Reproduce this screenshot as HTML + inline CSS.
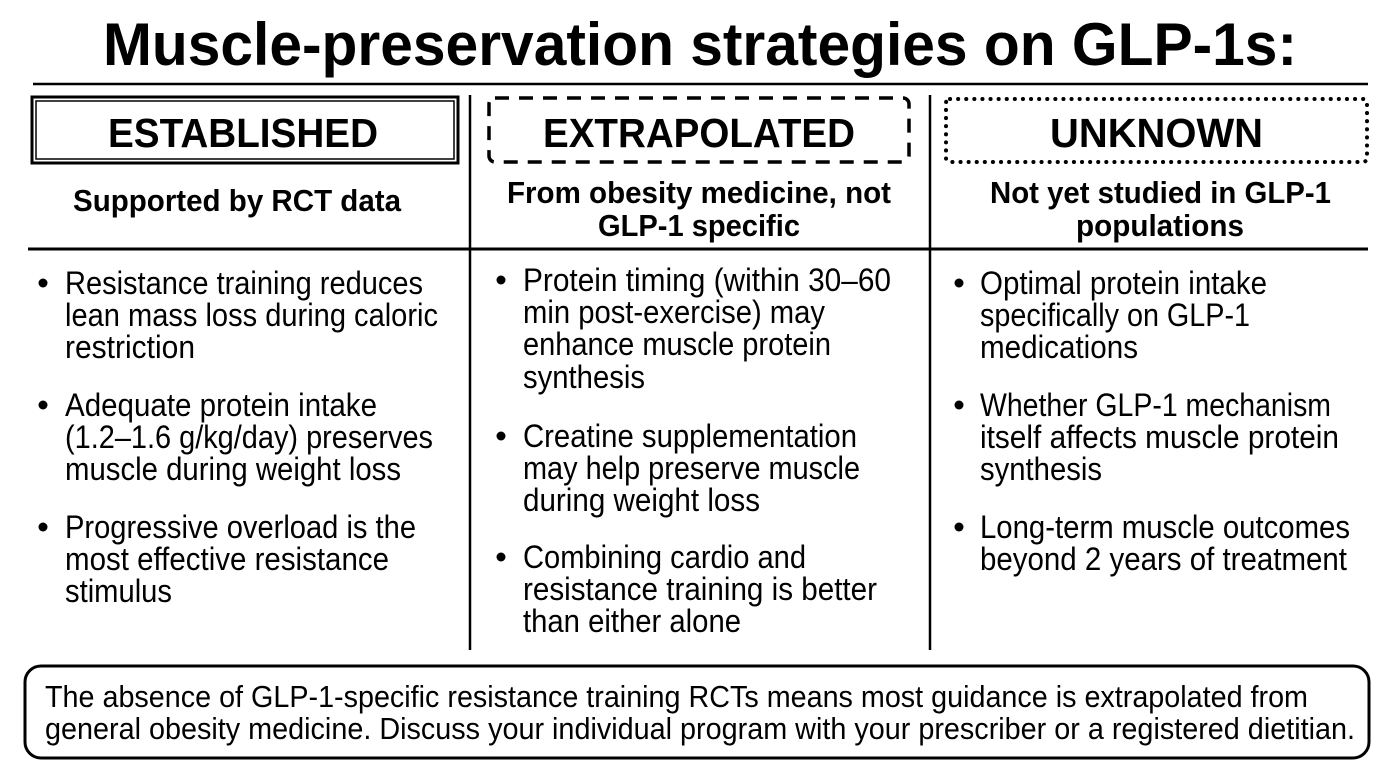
<!DOCTYPE html>
<html><head><meta charset="utf-8"><style>
html,body{margin:0;padding:0;background:#fff}
svg{display:block}
text{font-family:"Liberation Sans",sans-serif;fill:#000}
.b{font-weight:bold}
</style></head><body>
<svg width="1400" height="781" viewBox="0 0 1400 781" xmlns="http://www.w3.org/2000/svg">
<rect width="1400" height="781" fill="#fff"/>
<text class="b" x="103" y="65" font-size="60" textLength="1194" lengthAdjust="spacingAndGlyphs">Muscle-preservation strategies on GLP-1s:</text>
<line x1="33" y1="84" x2="1368" y2="84" stroke="#000" stroke-width="2.5"/>
<line x1="470" y1="95" x2="470" y2="650" stroke="#000" stroke-width="2.5"/>
<line x1="930" y1="95" x2="930" y2="650" stroke="#000" stroke-width="2.5"/>
<line x1="28" y1="249" x2="1368" y2="249" stroke="#000" stroke-width="3"/>
<rect x="32" y="97" width="426" height="66" fill="none" stroke="#000" stroke-width="3"/>
<rect x="36" y="101" width="418" height="58" fill="none" stroke="#000" stroke-width="1.5"/>
<rect x="489" y="98" width="420" height="64" rx="6" fill="none" stroke="#000" stroke-width="3.5" stroke-dasharray="14 10"/>
<rect x="946" y="99" width="421" height="63" rx="4" fill="none" stroke="#000" stroke-width="4" stroke-dasharray="0.1 8" stroke-linecap="round"/>
<text class="b" x="108" y="147" font-size="41" textLength="270" lengthAdjust="spacingAndGlyphs">ESTABLISHED</text>
<text class="b" x="543" y="147" font-size="41" textLength="312" lengthAdjust="spacingAndGlyphs">EXTRAPOLATED</text>
<text class="b" x="1050" y="147" font-size="41" textLength="213" lengthAdjust="spacingAndGlyphs">UNKNOWN</text>
<text class="b" x="73" y="211" font-size="31" textLength="328" lengthAdjust="spacingAndGlyphs">Supported by RCT data</text>
<text class="b" x="507" y="203" font-size="31" textLength="384" lengthAdjust="spacingAndGlyphs">From obesity medicine, not</text>
<text class="b" x="598" y="236" font-size="31" textLength="202" lengthAdjust="spacingAndGlyphs">GLP-1 specific</text>
<text class="b" x="990" y="203" font-size="31" textLength="341" lengthAdjust="spacingAndGlyphs">Not yet studied in GLP-1</text>
<text class="b" x="1076" y="236" font-size="31" textLength="168" lengthAdjust="spacingAndGlyphs">populations</text>
<g font-size="32">
<circle cx="43" cy="283" r="4.5"/><circle cx="43" cy="405" r="4.5"/><circle cx="43" cy="527" r="4.5"/>
<text x="65" y="294" textLength="358" lengthAdjust="spacingAndGlyphs">Resistance training reduces</text>
<text x="65" y="326" textLength="373" lengthAdjust="spacingAndGlyphs">lean mass loss during caloric</text>
<text x="65" y="358" textLength="130" lengthAdjust="spacingAndGlyphs">restriction</text>
<text x="65" y="416" textLength="312" lengthAdjust="spacingAndGlyphs">Adequate protein intake</text>
<text x="65" y="448" textLength="368" lengthAdjust="spacingAndGlyphs">(1.2–1.6 g/kg/day) preserves</text>
<text x="65" y="480" textLength="336" lengthAdjust="spacingAndGlyphs">muscle during weight loss</text>
<text x="65" y="538" textLength="351" lengthAdjust="spacingAndGlyphs">Progressive overload is the</text>
<text x="65" y="570" textLength="324" lengthAdjust="spacingAndGlyphs">most effective resistance</text>
<text x="65" y="602" textLength="107" lengthAdjust="spacingAndGlyphs">stimulus</text>

<circle cx="501" cy="280" r="4.5"/><circle cx="501" cy="436" r="4.5"/><circle cx="501" cy="557" r="4.5"/>
<text x="523" y="291" textLength="368" lengthAdjust="spacingAndGlyphs">Protein timing (within 30–60</text>
<text x="523" y="323" textLength="302" lengthAdjust="spacingAndGlyphs">min post-exercise) may</text>
<text x="523" y="355" textLength="308" lengthAdjust="spacingAndGlyphs">enhance muscle protein</text>
<text x="523" y="388" textLength="122" lengthAdjust="spacingAndGlyphs">synthesis</text>
<text x="523" y="447" textLength="334" lengthAdjust="spacingAndGlyphs">Creatine supplementation</text>
<text x="523" y="479" textLength="337" lengthAdjust="spacingAndGlyphs">may help preserve muscle</text>
<text x="523" y="511" textLength="237" lengthAdjust="spacingAndGlyphs">during weight loss</text>
<text x="523" y="568" textLength="283" lengthAdjust="spacingAndGlyphs">Combining cardio and</text>
<text x="523" y="600" textLength="354" lengthAdjust="spacingAndGlyphs">resistance training is better</text>
<text x="523" y="632" textLength="218" lengthAdjust="spacingAndGlyphs">than either alone</text>

<circle cx="959" cy="283" r="4.5"/><circle cx="959" cy="405" r="4.5"/><circle cx="959" cy="527" r="4.5"/>
<text x="980" y="294" textLength="287" lengthAdjust="spacingAndGlyphs">Optimal protein intake</text>
<text x="980" y="326" textLength="270" lengthAdjust="spacingAndGlyphs">specifically on GLP-1</text>
<text x="980" y="358" textLength="158" lengthAdjust="spacingAndGlyphs">medications</text>
<text x="980" y="416" textLength="351" lengthAdjust="spacingAndGlyphs">Whether GLP-1 mechanism</text>
<text x="980" y="448" textLength="359" lengthAdjust="spacingAndGlyphs">itself affects muscle protein</text>
<text x="980" y="480" textLength="122" lengthAdjust="spacingAndGlyphs">synthesis</text>
<text x="980" y="538" textLength="370" lengthAdjust="spacingAndGlyphs">Long-term muscle outcomes</text>
<text x="980" y="570" textLength="367" lengthAdjust="spacingAndGlyphs">beyond 2 years of treatment</text>
</g>
<rect x="25" y="666" width="1344" height="92" rx="16" fill="none" stroke="#000" stroke-width="3"/>
<text x="45" y="707" font-size="31" textLength="1263" lengthAdjust="spacingAndGlyphs">The absence of GLP-1-specific resistance training RCTs means most guidance is extrapolated from</text>
<text x="45" y="739" font-size="31" textLength="1310" lengthAdjust="spacingAndGlyphs">general obesity medicine. Discuss your individual program with your prescriber or a registered dietitian.</text>
</svg>
</body></html>
